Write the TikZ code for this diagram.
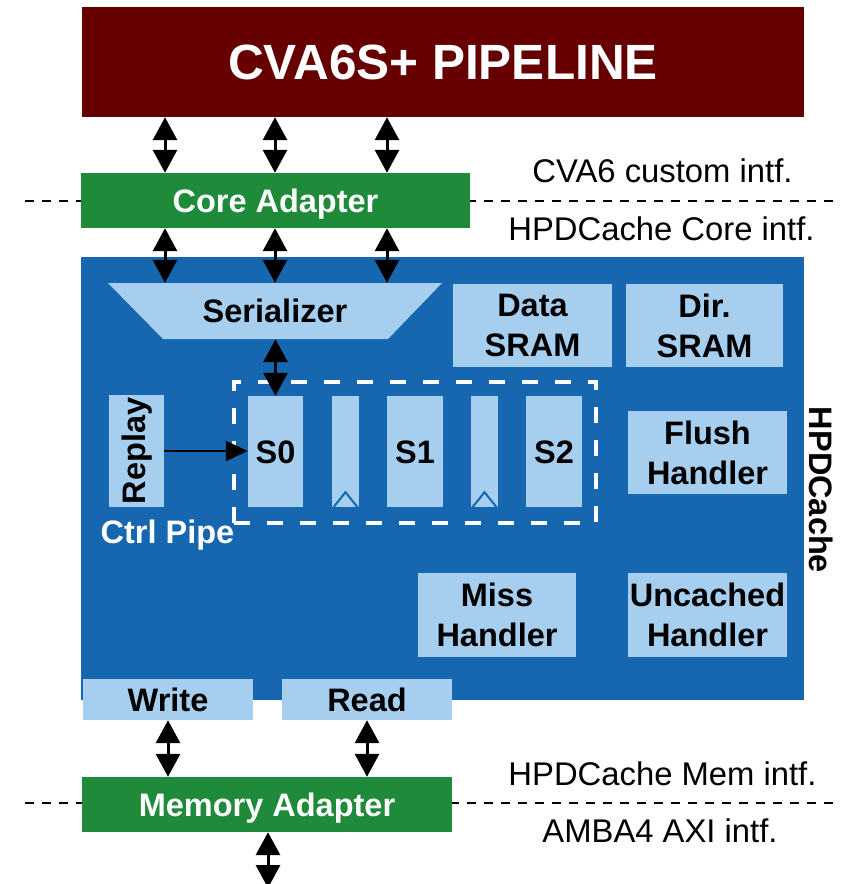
\documentclass[tikz,border=0pt]{standalone}
\usepackage{fontspec}
\setmainfont{Liberation Sans}
\usetikzlibrary{arrows.meta,calc}
\definecolor{pipered}{RGB}{102,0,0}
\definecolor{adgreen}{RGB}{30,138,58}
\definecolor{hblue}{RGB}{22,102,176}
\definecolor{lblue}{RGB}{166,207,239}
\begin{document}
\begin{tikzpicture}[x=1pt,y=-1pt,
  bf/.style={font=\bfseries\fontsize{32.5}{40}\selectfont},
  one/.style={text height=23.3pt, text depth=0pt},
  lbox/.style={bf, fill=lblue, inner sep=0pt, text=black, align=center},
  gbox/.style={bf, one, fill=adgreen, inner sep=0pt, text=white},
  dbl/.style={{Triangle[length=23pt,width=24pt]}-{Triangle[length=23pt,width=24pt]}, line width=3pt, black},
  intfline/.style={line width=2pt, dash pattern=on 9pt off 8pt, black},
  intftext/.style={font=\fontsize{32.8}{38}\selectfont, anchor=base, text=black},
  regmark/.style={draw=hblue, line width=2pt}
]
\useasboundingbox (0,0) rectangle (857,884);
\clip (0,0) rectangle (857,884);

% interface dashed lines
\draw[intfline] (25,201) -- (833,201);
\draw[intfline] (25,803) -- (833,803);

% pipeline
\node[fill=pipered, inner sep=0pt, minimum width=722pt, minimum height=110pt, text=white,
      font=\bfseries\fontsize{49.5}{55}\selectfont, text height=35.4pt, text depth=0pt] (pipe) at (443,62) {CVA6S+ PIPELINE};

% core adapter
\node[gbox, minimum width=389pt, minimum height=55pt] (core) at (275.5,200.5) {Core Adapter};

% HPDCache main block
\node[fill=hblue, inner sep=0pt, minimum width=723pt, minimum height=443pt] (hpd) at (442.5,478.5) {};
\node[bf, one, rotate=-90, text=black, inner sep=0pt] (hpdlabel) at (821,490) {HPDCache};

% serializer
\coordinate (sertl) at (108,283);
\coordinate (sertr) at (442,283);
\coordinate (serbr) at (388,339);
\coordinate (serbl) at (163,339);
\fill[lblue] (sertl) -- (sertr) -- (serbr) -- (serbl) -- cycle;
\node[bf, one, inner sep=0pt, minimum width=334pt, minimum height=56pt, text=black] (ser) at (275,311) {Serializer};

% SRAMs and handlers
\node[lbox, minimum width=159pt, minimum height=83pt] (data) at (532.5,325.5) {Data\\SRAM};
\node[lbox, minimum width=157pt, minimum height=83pt] (dir) at (704.5,325.5) {Dir.\\SRAM};
\node[lbox, minimum width=159pt, minimum height=83pt] (flush) at (707.5,452.5) {Flush\\Handler};
\node[lbox, minimum width=158pt, minimum height=84pt] (miss) at (497,615) {Miss\\Handler};
\node[lbox, minimum width=159pt, minimum height=84pt] (unc) at (707.5,615) {Uncached\\Handler};

% pipeline stages
\node[draw=white, line width=4.5pt, dash pattern=on 16pt off 17pt, inner sep=0pt,
      minimum width=362pt, minimum height=141pt] (stages) at (415,452.5) {};
\node[lbox, one, minimum width=55pt, minimum height=111pt] (s0) at (275.5,451.5) {S0};
\node[lbox, minimum width=27pt, minimum height=111pt] (r1) at (345.5,451.5) {};
\node[lbox, one, minimum width=56pt, minimum height=111pt] (s1) at (415,451.5) {S1};
\node[lbox, minimum width=27pt, minimum height=111pt] (r2) at (484.5,451.5) {};
\node[lbox, one, minimum width=56pt, minimum height=111pt] (s2) at (554,451.5) {S2};
\draw[regmark] ($(r1.south)+(-12,0)$) -- ($(r1.south)+(0,-15)$) -- ($(r1.south)+(12,0)$);
\draw[regmark] ($(r2.south)+(-12,0)$) -- ($(r2.south)+(0,-15)$) -- ($(r2.south)+(12,0)$);

% replay
\node[lbox, rotate=90, text height=23.3pt, text depth=6pt, minimum width=112pt, minimum height=55pt] (replay) at (136.5,451) {Replay};
\node[bf, anchor=base, text=white, inner sep=0pt] (ctrl) at (167.5,543) {Ctrl Pipe};

% write / read
\node[lbox, one, minimum width=170pt, minimum height=41pt] (write) at (168,699.5) {Write};
\node[lbox, one, minimum width=170pt, minimum height=41pt] (read) at (367,699.5) {Read};

% memory adapter
\node[gbox, minimum width=370pt, minimum height=55pt] (mem) at (267,804.5) {Memory Adapter};

% arrows
\coordinate (c1) at (165,0);
\coordinate (c2) at (275,0);
\coordinate (c3) at (387,0);
\foreach \c in {c1,c2,c3} {
  \draw[dbl] (pipe.south -| \c) -- (core.north -| \c);
  \draw[dbl] (core.south -| \c) -- (ser.north -| \c);
}
\draw[dbl] (ser.south -| s0.north) -- (s0.north);
\draw[line width=2pt, -{Triangle[length=22pt,width=20pt]}] (replay) -- (replay -| s0.west);
\draw[dbl] (write.south) -- (write.south |- mem.north);
\draw[dbl] (read.south) -- (read.south |- mem.north);
\coordinate (memout) at (268,888);
\draw[dbl] (mem.south -| memout) -- (memout);

% interface labels
\node[intftext] (l1) at (662.5,182) {CVA6 custom intf.};
\node[intftext] (l2) at (661.5,240) {HPDCache Core intf.};
\node[intftext] (l3) at (662.5,785) {HPDCache Mem intf.};
\node[intftext] (l4) at (660,842) {AMBA4 AXI intf.};
\end{tikzpicture}
\end{document}
